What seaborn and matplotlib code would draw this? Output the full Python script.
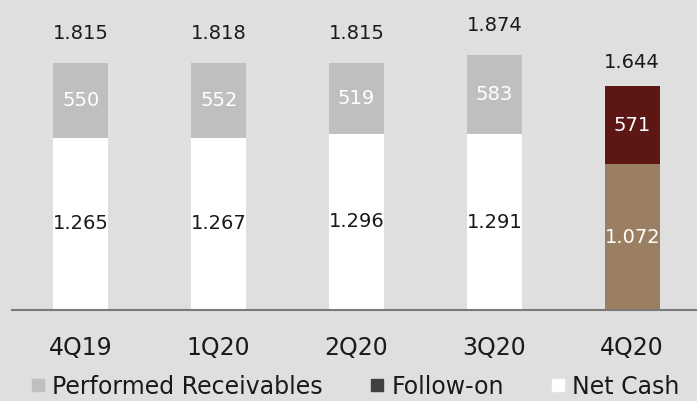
import matplotlib
matplotlib.use("Agg")
import matplotlib.pyplot as plt
from matplotlib.lines import Line2D
import seaborn as sns

# Data (values in thousands, dot as thousands separator in labels)
quarters = ["4Q19", "1Q20", "2Q20", "3Q20", "4Q20"]
net_cash = [1265, 1267, 1296, 1291, 1072]
top_part = [550, 552, 519, 583, 571]
totals = [1815, 1818, 1815, 1874, 1644]

bg = "#dfdfdf"
gray = "#bfbfbf"
dark_red = "#5c1614"
brown = "#9b7f62"

sns.set_style("white")
plt.rcParams["font.family"] = ["DejaVu Sans"]

fig = plt.figure(figsize=(6.97, 4.01), dpi=100, facecolor=bg)
ax = fig.add_axes([12 / 697, 91 / 401, 685 / 697, 310 / 401])
ax.set_facecolor(bg)

top_colors = [gray, gray, gray, gray, dark_red]
bottom_colors = ["white", "white", "white", "white", brown]

# full stacks first, then the lower part over them
sns.barplot(x=quarters, y=totals, hue=quarters, palette=top_colors,
            width=0.4, legend=False, ax=ax, saturation=1, linewidth=0)
sns.barplot(x=quarters, y=net_cash, hue=quarters, palette=bottom_colors,
            width=0.4, legend=False, ax=ax, saturation=1, linewidth=0)


def fmt(v):
    return f"{v:,}".replace(",", ".")


for i, q in enumerate(quarters):
    low_col = "white" if i == 4 else "#1a1a1a"
    ax.text(i, net_cash[i] / 2, fmt(net_cash[i]), ha="center", va="center",
            fontsize=14, color=low_col)
    ax.text(i, net_cash[i] + top_part[i] / 2, fmt(top_part[i]), ha="center",
            va="center", fontsize=14, color="white")
    off = 175 if i == 4 else 215
    ax.text(i, totals[i] + off, fmt(totals[i]), ha="center", va="center",
            fontsize=14, color="#1a1a1a")

ax.set_xlim(-0.5, 4.47)
ax.set_ylim(0, 2279)
ax.set_yticks([])
ax.set_xlabel("")
ax.set_ylabel("")
for s in ["top", "left", "right"]:
    ax.spines[s].set_visible(False)
ax.spines["bottom"].set_color("#7a7a7a")
ax.spines["bottom"].set_linewidth(1.5)
ax.tick_params(axis="x", length=0, pad=19, labelsize=17, labelcolor="#1a1a1a")

handles = [
    Line2D([], [], marker="s", linestyle="", markersize=9, color=gray, label="Performed Receivables"),
    Line2D([], [], marker="s", linestyle="", markersize=9, color="#404040", label="Follow-on"),
    Line2D([], [], marker="s", linestyle="", markersize=9, color="white", label="Net Cash"),
]
fig.legend(handles=handles, loc="center", bbox_to_anchor=(0.51, 0.036), ncol=3,
           frameon=False, fontsize=17, handlelength=0.6, handletextpad=0.3,
           columnspacing=2.0, labelcolor="#1a1a1a")

fig.savefig("out.png", dpi=100, facecolor=bg)
